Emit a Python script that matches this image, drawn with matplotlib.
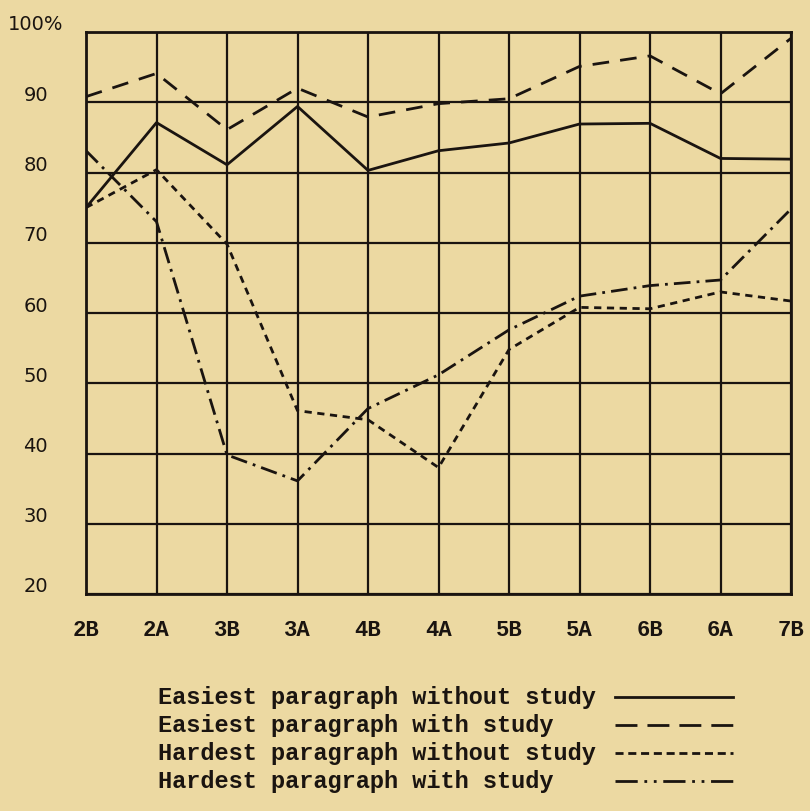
import matplotlib
matplotlib.use("Agg")
import matplotlib.pyplot as plt
from matplotlib.lines import Line2D
from matplotlib.transforms import ScaledTranslation, blended_transform_factory

categories = ['2B', '2A', '3B', '3A', '4B', '4A', '5B', '5A', '6B', '6A', '7B']
easy_without = [75.0, 87.1, 81.1, 89.4, 80.3, 83.1, 84.2, 86.9, 87.0, 82.0, 81.9]
easy_with = [90.8, 94.1, 86.1, 92.0, 87.9, 89.8, 90.5, 95.1, 96.6, 91.2, 99.1]
hard_without = [75.0, 80.4, 69.8, 46.1, 44.8, 38.0, 54.8, 60.8, 60.6, 63.0, 61.7]
hard_with = [83.1, 73.0, 39.8, 36.1, 46.4, 51.2, 57.6, 62.4, 63.9, 64.7, 74.8]
y_ticks = [20, 30, 40, 50, 60, 70, 80, 90, 100]
y_tick_labels = ['20', '30', '40', '50', '60', '70', '80', '90', '100%']
series_labels = ['Easiest paragraph without study',
                 'Easiest paragraph with study',
                 'Hardest paragraph without study',
                 'Hardest paragraph with study']

BG = '#ecd9a2'
INK = '#1a1410'
W, H = 810, 812
fig = plt.figure(figsize=(W / 100, H / 100), dpi=100, facecolor=BG)
ax = fig.add_axes([86 / W, 1 - 595 / H, (791 - 86) / W, (595 - 33) / H])
ax.set_facecolor(BG)

x = list(range(len(categories)))
styles = [
    dict(linestyle='-'),
    dict(linestyle=(0, (6, 4))),
    dict(linestyle=(0, (2.6, 2.0))),
    dict(linestyle=(0, (6, 2.2, 1, 2.2))),
]
legend_styles = [
    dict(linestyle='-'),
    dict(linestyle=(0, (7.9, 3.6))),
    dict(linestyle=(0, (2.9, 1.7))),
    dict(linestyle=(0, (8, 2.4, 1, 2.4, 1, 2.4))),
]
series = [easy_without, easy_with, hard_without, hard_with]
for vals, st in zip(series, styles):
    ax.plot(x, vals, color=INK, lw=2.0, **st, zorder=3)

ax.set_xlim(0, len(categories) - 1)
ax.set_ylim(20, 100)
ax.set_xticks(x)
ax.set_xticklabels(categories, fontfamily='Liberation Mono', fontweight='bold',
                   fontsize=16, color=INK)
ax.set_yticks(y_ticks)
ax.set_yticklabels([])
ax.tick_params(length=0, pad=18)
ax.grid(True, color=INK, lw=1.6)
ax.set_axisbelow(True)
for sp in ax.spines.values():
    sp.set_color(INK)
    sp.set_linewidth(2.0)

# y labels drawn slightly above their gridlines, as in the reference
trans = blended_transform_factory(fig.transFigure, ax.transData)
off = ScaledTranslation(0, 8 / 100, fig.dpi_scale_trans)
for v, lab in zip(y_ticks, y_tick_labels):
    if lab.endswith('%'):
        fig.text(8 / W, v, lab, transform=trans + off, ha='left', va='center',
                 fontsize=14, color=INK, family='DejaVu Sans')
    else:
        fig.text(48 / W, v, lab, transform=trans + off, ha='right', va='center',
                 fontsize=14, color=INK, family='DejaVu Sans')

# legend: text on the left, line sample on the right
rows_y = [698, 726, 754, 782]
for lab, st, ry in zip(series_labels, legend_styles, rows_y):
    yf = 1 - ry / H
    fig.text(158 / W, yf, lab, ha='left', va='center', fontsize=17,
             family='Liberation Mono', fontweight='bold', color=INK)
    fig.add_artist(Line2D([615 / W, 733 / W], [yf, yf], transform=fig.transFigure,
                          color=INK, lw=2.0, **st))

fig.savefig('out.png', dpi=100, facecolor=BG)
